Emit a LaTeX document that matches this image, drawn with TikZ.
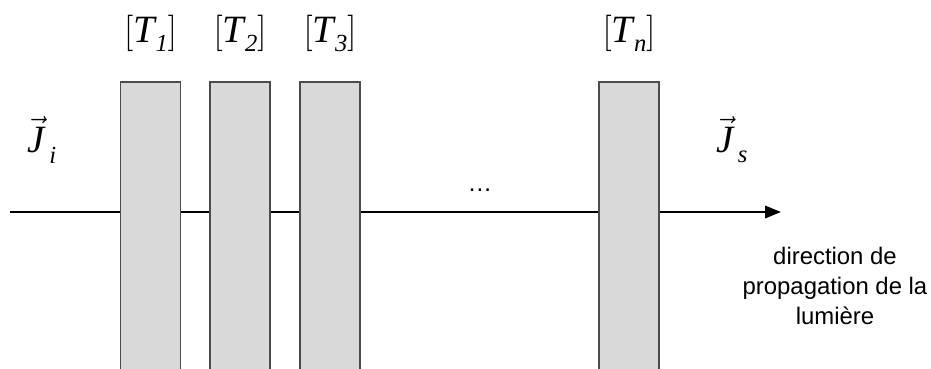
\documentclass[tikz,border=0pt]{standalone}
\usepackage{amsmath}
\usepackage{fontspec}
\setmainfont{Liberation Sans}
\newfontfamily\tms{Liberation Serif}
\usepackage{tikz}
\usetikzlibrary{positioning,arrows.meta}

\newcommand{\matT}[1]{\ensuremath{\left[\vrule height 15pt depth 6pt width 0pt
  \mbox{\itshape T\kern0.5pt\raisebox{-5.5pt}{\fontsize{14}{14}\selectfont #1}}\right]}}
\newcommand{\vecJ}[1]{\ensuremath{\vec{\mbox{\itshape J}}}\kern2.5pt\raisebox{-6pt}{\fontsize{14}{14}\selectfont\itshape #1}}

\begin{document}
\begin{tikzpicture}[x=0.02cm,y=-0.02cm,
      plaque/.style={draw=black!70,line width=1.1pt,fill=black!15,
        minimum width=1.2cm,minimum height=6.4cm,inner sep=0pt},
      etiquette/.style={font=\tms\fontsize{22}{26}\selectfont,inner sep=0pt},
      axe/.style={line width=1.2pt,-{Triangle[length=9pt,width=7pt]}}]
      \useasboundingbox (0,0) rectangle (931,369);
      \clip (0,0) rectangle (931,369);
      % axe de propagation
      \coordinate (entree) at (10,212);
      \coordinate (sortie) at (781,212);
      \draw[axe] (entree) -- (sortie);
      % lames
      \node[plaque] (t1) at (150.5,242) {};
      \node[plaque] (t2) at (240,242) {};
      \node[plaque] (t3) at (330,242) {};
      \node[plaque] (tn) at (629,242) {};
      \node[etiquette,above=16pt of t1.north] (lt1) {\matT{1}};
      \node[etiquette,above=16pt of t2.north] (lt2) {\matT{2}};
      \node[etiquette,above=16pt of t3.north] (lt3) {\matT{3}};
      \node[etiquette,above=16pt of tn.north] (ltn) {\matT{n}};
      \node[font=\fontsize{14}{17}\selectfont] (pts) at (480,190) {\dots};
      % vecteurs de Jones
      \node[etiquette] (ji) at (42,140) {\vecJ{i}};
      \node[etiquette] (js) at (732,140) {\vecJ{s}};
      \node[font=\fontsize{13.6}{17}\selectfont,align=center] (dir) at (835,286)
        {direction de\\propagation de la\\lumière};
\end{tikzpicture}
\end{document}
